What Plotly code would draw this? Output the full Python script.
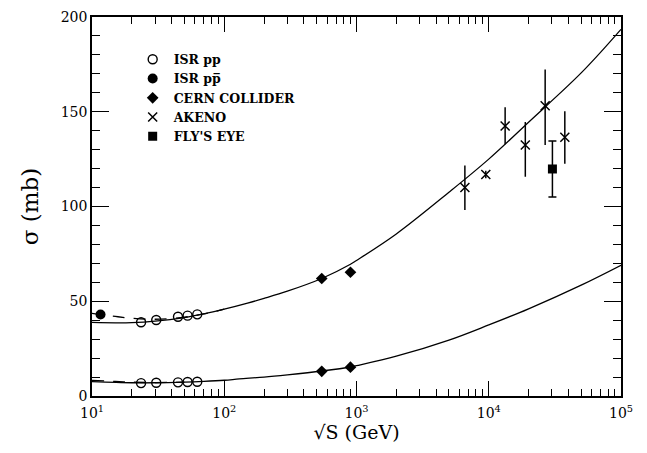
import plotly.graph_objects as go

# ---- data ----
isr_pp_sqrt_s = [23.5, 30.6, 44.7, 52.8, 62.5]
isr_pp_tot = [38.9, 40.1, 41.8, 42.4, 43.1]
isr_pp_el = [6.8, 7.0, 7.2, 7.4, 7.5]

isr_ppbar_sqrt_s = [11.6]
isr_ppbar_tot = [43.0]

cern_sqrt_s = [546, 900]
cern_tot = [62.0, 65.3]
cern_el = [13.0, 15.2]

akeno_sqrt_s = [6600, 9500, 13300, 18900, 26700, 37600]
akeno_tot = [110.0, 116.9, 142.5, 132.5, 153.2, 136.5]
akeno_err_plus = [11.7, 2.0, 9.9, 12.1, 19.1, 13.8]
akeno_err_minus = [11.8, 2.0, 9.7, 16.8, 20.7, 13.9]

flys_sqrt_s = [30300]
flys_tot = [119.8]
flys_err = [14.8]

# fitted curves
fit_pp_tot_x = [10, 15, 20, 30, 50, 70, 100, 150, 200, 300, 546, 900, 1000, 2000, 5000, 10000, 20000, 50000, 100000]
fit_pp_tot_y = [38.8, 38.6, 38.7, 39.5, 41.4, 43.3, 45.8, 49.0, 51.5, 55.3, 62.0, 69.5, 71.5, 85.5, 107.5, 125.0, 144.5, 170.5, 193.5]
fit_ppbar_tot_x = [10, 11.6, 15, 20, 30, 50, 70, 100]
fit_ppbar_tot_y = [43.6, 43.0, 42.0, 41.0, 40.5, 41.6, 43.3, 45.8]

fit_pp_el_x = [10, 20, 30, 50, 70, 100, 130, 200, 300, 546, 900, 1000, 2000, 5000, 10000, 20000, 50000, 100000]
fit_pp_el_y = [7.6, 7.0, 7.0, 7.3, 7.7, 8.3, 9.0, 10.0, 11.2, 13.2, 15.3, 16.0, 21.0, 29.5, 37.5, 46.0, 58.5, 69.0]
fit_ppbar_el_x = [10, 15, 20, 30, 50]
fit_ppbar_el_y = [8.2, 7.7, 7.3, 7.1, 7.3]

x_tickvals = [10, 100, 1000, 10000, 100000]
x_ticktext = ["10<sup>1</sup>", "10<sup>2</sup>", "10<sup>3</sup>", "10<sup>4</sup>", "10<sup>5</sup>"]
y_tickvals = [0, 50, 100, 150, 200]

SERIF = "DejaVu Serif"
BLACK = "black"

fig = go.Figure()

# curves
fig.add_trace(go.Scatter(x=fit_pp_tot_x, y=fit_pp_tot_y, mode="lines", line=dict(color=BLACK, width=1.3, shape="spline"), showlegend=False))
fig.add_trace(go.Scatter(x=fit_ppbar_tot_x, y=fit_ppbar_tot_y, mode="lines", line=dict(color=BLACK, width=1.3, dash="12px,9px", shape="spline"), showlegend=False))
fig.add_trace(go.Scatter(x=fit_pp_el_x, y=fit_pp_el_y, mode="lines", line=dict(color=BLACK, width=1.3, shape="spline"), showlegend=False))
fig.add_trace(go.Scatter(x=fit_ppbar_el_x, y=fit_ppbar_el_y, mode="lines", line=dict(color=BLACK, width=1.3, dash="12px,9px", shape="spline"), showlegend=False))

# ISR pp (open circles) - total and elastic
fig.add_trace(go.Scatter(x=isr_pp_sqrt_s, y=isr_pp_tot, mode="markers", name="ISR pp",
                         marker=dict(symbol="circle-open", size=9, color=BLACK, line=dict(width=1.4))))
fig.add_trace(go.Scatter(x=isr_pp_sqrt_s, y=isr_pp_el, mode="markers", showlegend=False,
                         marker=dict(symbol="circle-open", size=9, color=BLACK, line=dict(width=1.4))))
# ISR ppbar (filled)
fig.add_trace(go.Scatter(x=isr_ppbar_sqrt_s, y=isr_ppbar_tot, mode="markers", name="ISR pp\u0305",
                         marker=dict(symbol="circle", size=10, color=BLACK)))
# CERN collider
fig.add_trace(go.Scatter(x=cern_sqrt_s, y=cern_tot, mode="markers", name="CERN COLLIDER",
                         marker=dict(symbol="diamond", size=9, color=BLACK)))
fig.add_trace(go.Scatter(x=cern_sqrt_s, y=cern_el, mode="markers", showlegend=False,
                         marker=dict(symbol="diamond", size=9, color=BLACK)))
# Akeno
fig.add_trace(go.Scatter(x=akeno_sqrt_s, y=akeno_tot, mode="markers", name="AKENO",
                         marker=dict(symbol="x-thin-open", size=9, color=BLACK, line=dict(width=1.5, color=BLACK)),
                         error_y=dict(type="data", symmetric=False, array=akeno_err_plus, arrayminus=akeno_err_minus,
                                      color=BLACK, thickness=1.5, width=0)))
# Fly's Eye
fig.add_trace(go.Scatter(x=flys_sqrt_s, y=flys_tot, mode="markers", name="FLY'S EYE",
                         marker=dict(symbol="square", size=9, color=BLACK),
                         error_y=dict(type="data", array=flys_err, color=BLACK, thickness=1.5, width=4)))

axis_common = dict(showline=True, linecolor=BLACK, linewidth=1.5, mirror="allticks",
                   ticks="inside", tickcolor=BLACK, tickwidth=1.2, showgrid=False, zeroline=False)

fig.update_xaxes(type="log", range=[1, 5], tickvals=x_tickvals, ticktext=x_ticktext, ticklen=15,
                 minor=dict(ticks="inside", ticklen=7, tickcolor=BLACK, tickwidth=1.1, dtick="D1", showgrid=False),
                 tickfont=dict(family=SERIF, size=14, color=BLACK), ticklabelstandoff=3,
                 title=dict(text="\u221aS (GeV)", font=dict(family=SERIF, size=19, color=BLACK), standoff=6),
                 **axis_common)
fig.update_yaxes(range=[0, 200], tickvals=y_tickvals, ticklen=17,
                 minor=dict(ticks="inside", ticklen=8, tickcolor=BLACK, tickwidth=1.1, dtick=10, showgrid=False),
                 tickfont=dict(family=SERIF, size=14, color=BLACK),
                 title=dict(text="\u03c3 (mb)", font=dict(family=SERIF, size=23, color=BLACK), standoff=16),
                 **axis_common)

fig.update_layout(
    width=647, height=453,
    margin=dict(l=92, r=26, t=9, b=57),
    paper_bgcolor="white", plot_bgcolor="white",
    legend=dict(x=0.075, y=0.927, xanchor="left", yanchor="top", bgcolor="rgba(0,0,0,0)",
                font=dict(family=SERIF, size=12.5, color=BLACK, weight="bold"), itemwidth=32,
                tracegroupgap=0),
)

fig.write_html("out.html", config={"displayModeBar": False},
               post_script="document.body.style.margin='0';")
